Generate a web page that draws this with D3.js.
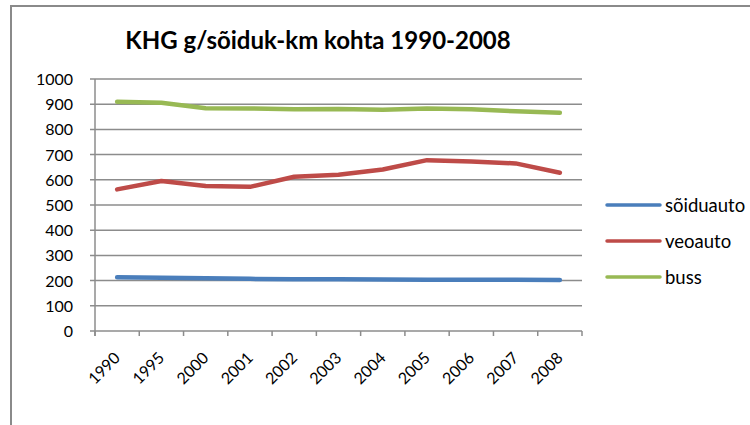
<!DOCTYPE html>
<html><head><meta charset="utf-8">
<script src="https://cdn.jsdelivr.net/npm/d3@7"></script>
<style>body{margin:0;background:#fff}svg{display:block}text{font-family:Lato,"Open Sans",sans-serif;fill:#000}</style>
</head><body>
<svg id="c" width="750" height="425"></svg>
<script>
const categories = ["1990","1995","2000","2001","2002","2003","2004","2005","2006","2007","2008"];
const soiduauto = [213,211,209,207,205,205,204,203,203,203,202];
const veoauto = [562,595,575,572,612,620,641,678,673,665,628];
const buss = [910,906,884,883,880,881,878,883,880,872,866];
const yTicks = [0,100,200,300,400,500,600,700,800,900,1000];
const seriesNames = ["sõiduauto","veoauto","buss"];
const seriesColors = ["#4a7ebb","#be4b48","#98b954"];
const seriesData = [soiduauto, veoauto, buss];

const svg = d3.select("#c");
// outer frame
svg.append("path").attr("d","M11,425 V6 H750").attr("fill","none").attr("stroke","#8a8a8a").attr("stroke-width",2);

const x = d3.scaleBand().domain(categories).range([95,582]);
const y = d3.scaleLinear().domain([0,1000]).range([331,79]);

// gridlines
svg.append("g").selectAll("line").data(yTicks).join("line")
  .attr("x1",90).attr("x2",582).attr("y1",d=>y(d)).attr("y2",d=>y(d))
  .attr("stroke","#8c8c8c").attr("stroke-width",1.5);
// y axis line
svg.append("line").attr("x1",95).attr("x2",95).attr("y1",79).attr("y2",336).attr("stroke","#8c8c8c").attr("stroke-width",1.5);
// x ticks
const xt = categories.map(c=>x(c)).concat([x(categories[categories.length-1])+x.bandwidth()]);
svg.append("g").selectAll("line").data(xt).join("line")
  .attr("x1",d=>d).attr("x2",d=>d).attr("y1",331).attr("y2",336)
  .attr("stroke","#8c8c8c").attr("stroke-width",1.5);

// y labels
svg.append("g").selectAll("text").data(yTicks).join("text")
  .attr("x",73).attr("y",d=>y(d)+6).attr("text-anchor","end").attr("font-size",16).text(d=>d);
// x labels
svg.append("g").selectAll("text").data(categories).join("text")
  .attr("text-anchor","end").attr("font-size",16)
  .attr("transform",d=>`translate(${x(d)+x.bandwidth()/2+4},${359}) rotate(-45)`).text(d=>d);

// lines
const line = d3.line().x((d,i)=>x(categories[i])+x.bandwidth()/2).y(d=>y(d));
seriesData.forEach((s,k)=>{
  svg.append("path").attr("d",line(s)).attr("fill","none").attr("stroke",seriesColors[k])
    .attr("stroke-width",4.5).attr("stroke-linecap","round").attr("stroke-linejoin","round");
});

// title
svg.append("text").attr("x",318).attr("y",49).attr("text-anchor","middle").attr("font-size",24).attr("font-weight","bold")
  .text("KHG g/sõiduk-km kohta 1990-2008");

// legend
const lg = svg.append("g").selectAll("g").data(seriesNames).join("g")
  .attr("transform",(d,i)=>`translate(607,${205+i*36})`);
lg.append("line").attr("x1",0).attr("x2",53).attr("y1",0).attr("y2",0)
  .attr("stroke",(d,i)=>seriesColors[i]).attr("stroke-width",3.5).attr("stroke-linecap","round");
lg.append("text").attr("x",58).attr("y",7).attr("font-size",18.5).text(d=>d);
</script>
</body></html>
